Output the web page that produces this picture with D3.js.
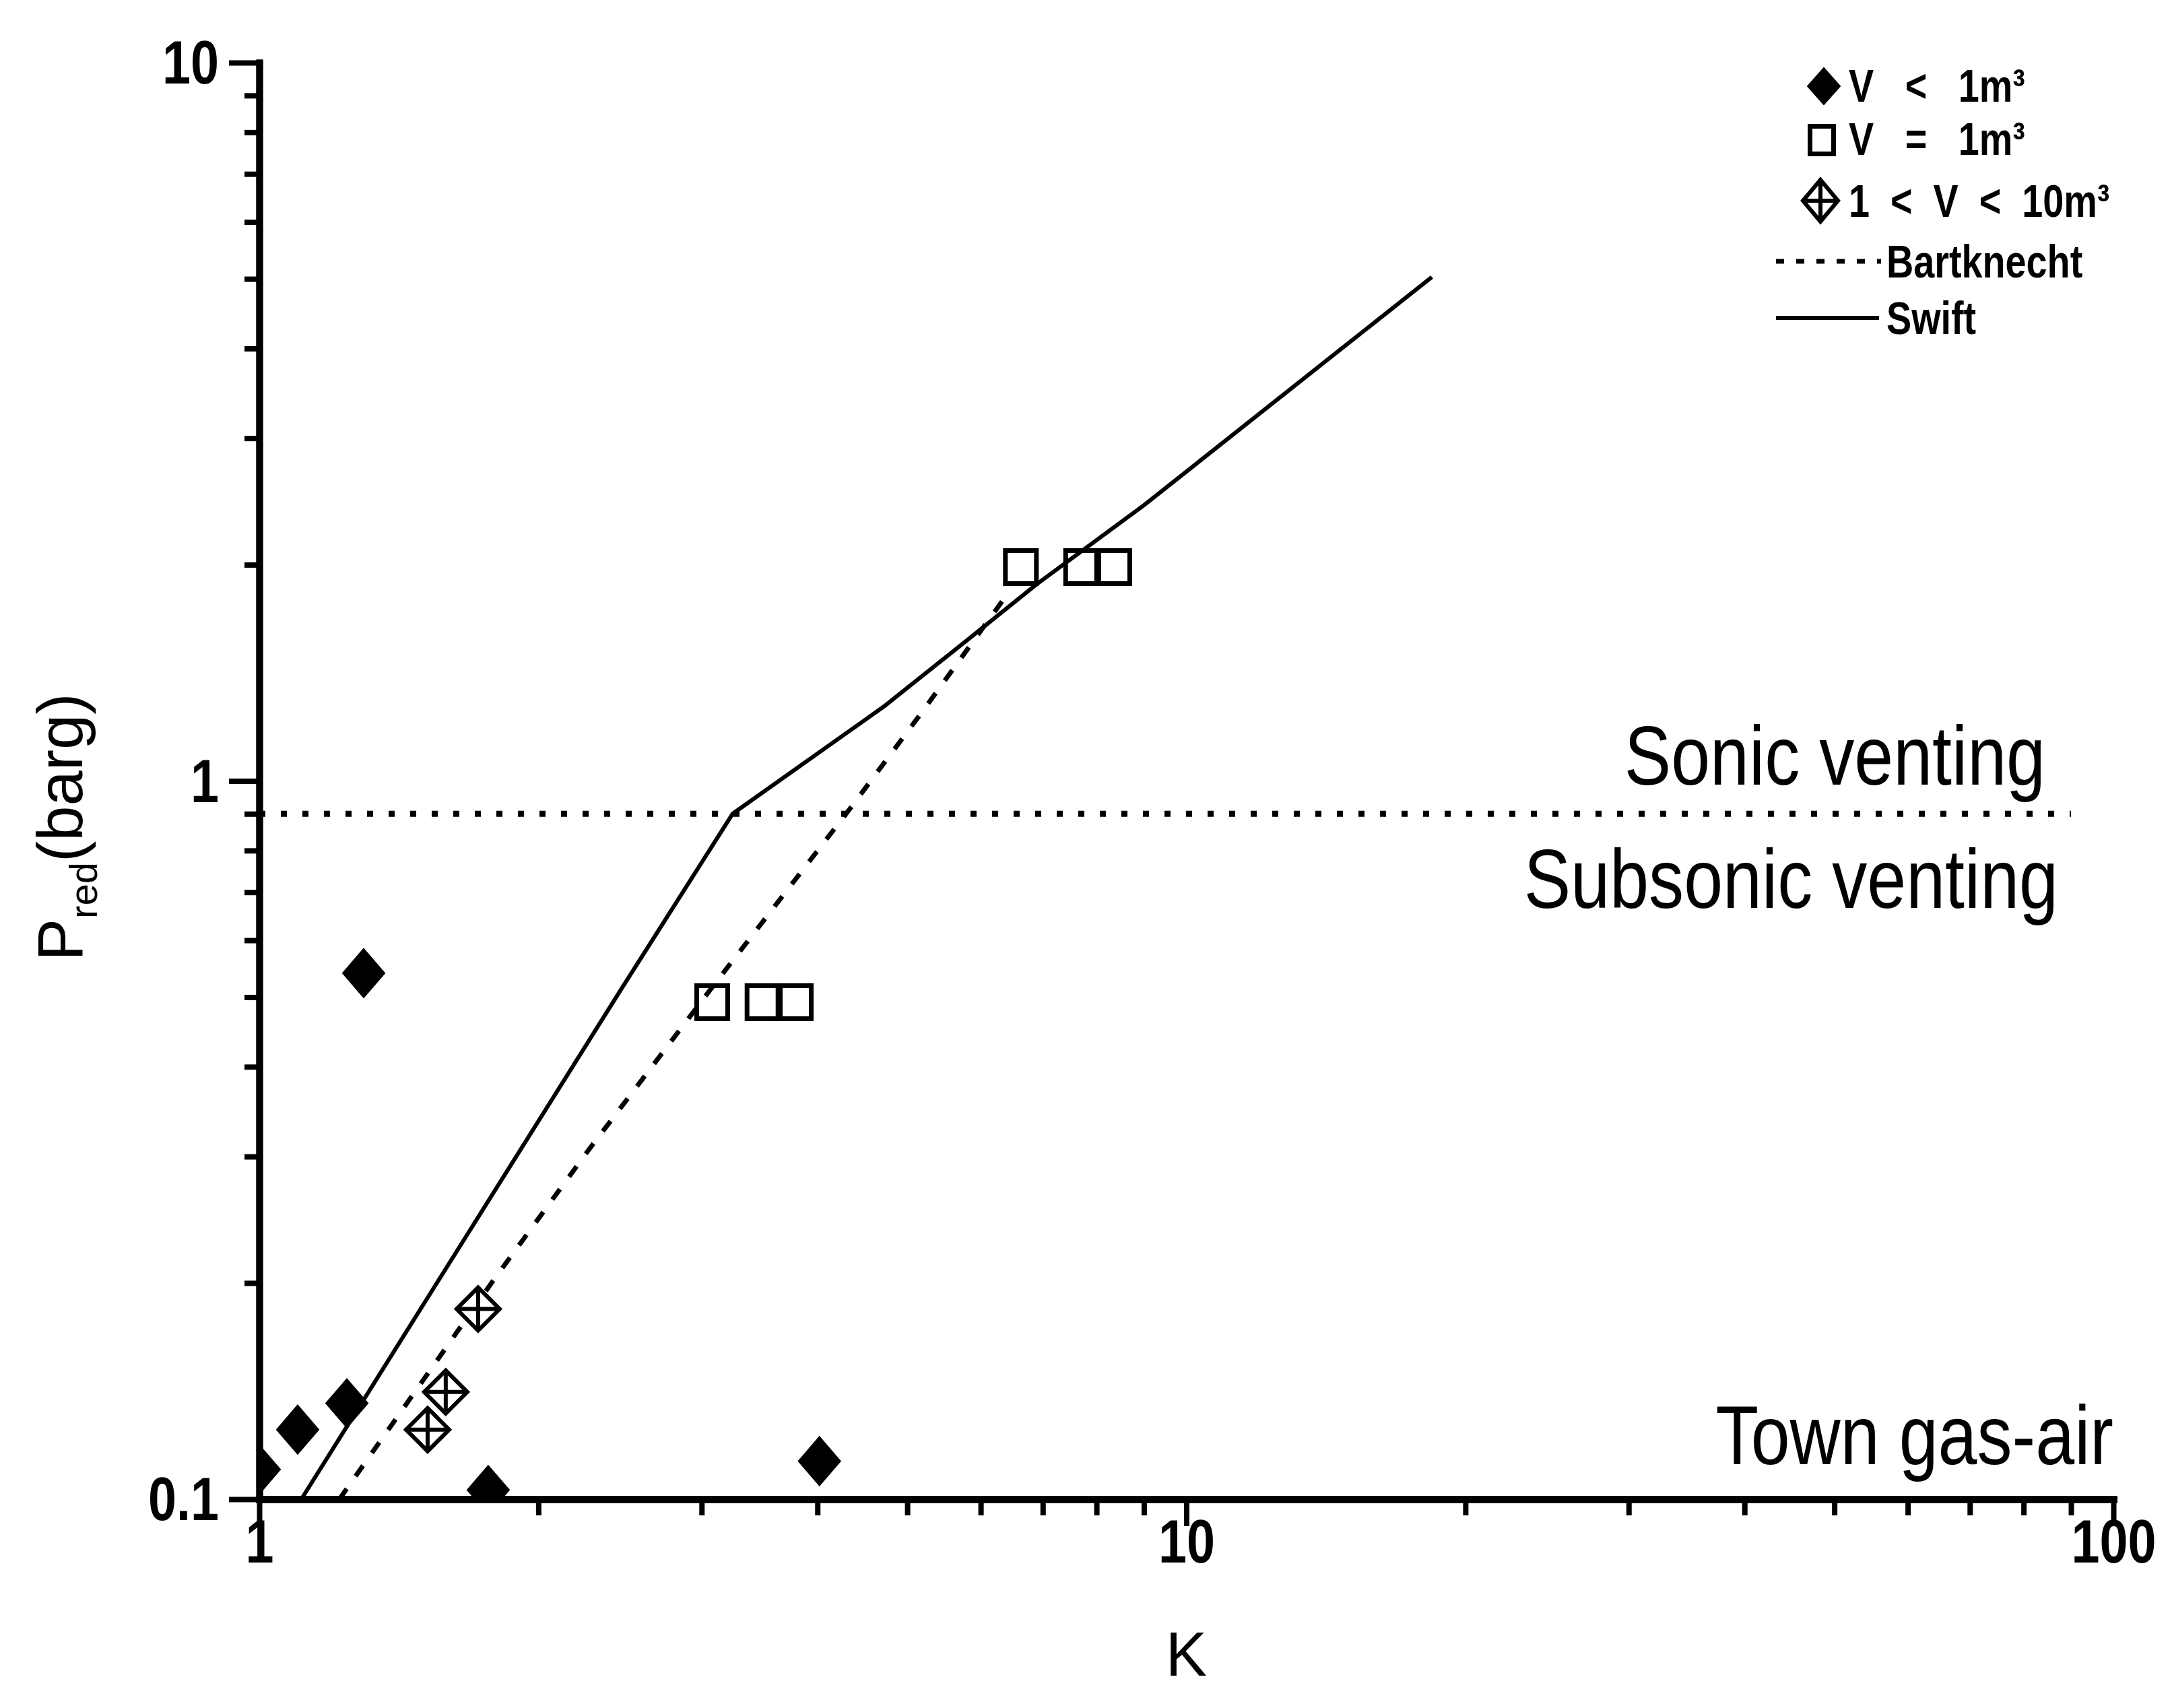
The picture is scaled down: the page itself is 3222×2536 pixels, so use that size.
<!DOCTYPE html>
<html>
<head>
<meta charset="utf-8">
<script src="https://cdn.jsdelivr.net/npm/d3@7"></script>
<style>
  html, body { margin: 0; padding: 0; background: #fff; }
  svg { display: block; }
</style>
</head>
<body>
<script>
// ---- Data: reduced explosion pressure vs. vent coefficient K ----
// Vessels smaller than 1 m3 (filled diamonds)
const smallK = [1.0, 1.10, 1.243, 1.296, 1.766, 4.02];
const smallP = [0.110, 0.125, 0.136, 0.54, 0.103, 0.113];
// 1 m3 vessel (open squares)
const oneK = [3.08, 3.49, 3.79, 6.63, 7.70, 8.36];
const oneP = [0.492, 0.492, 0.492, 1.985, 1.985, 1.985];
// 1 < V < 10 m3 (crossed diamonds)
const midK = [1.519, 1.589, 1.722];
const midP = [0.125, 0.141, 0.184];
// Swift correlation (solid)
const swiftK = [1.11, 1.66, 2.45, 3.24, 4.72, 5.8, 6.9, 9.0, 18.4];
const swiftP = [0.1, 0.229, 0.51, 0.9, 1.27, 1.57, 1.88, 2.42, 5.03];
// Bartknecht correlation (dashed)
const bartK = [1.22, 1.79, 2.26, 3.09, 4.34, 5.17, 6.45];
const bartP = [0.1, 0.202, 0.305, 0.519, 0.916, 1.24, 1.84];
// Sonic / subsonic boundary
const sonicK = [1, 90];
const sonicP = [0.9, 0.9];
// Axis labels
const xTickValues = [1, 10, 100];
const xTickLabels = ["1", "10", "100"];
const yTickValues = [0.1, 1, 10];
const yTickLabels = ["0.1", "1", "10"];
const legendLabels = ["V   <   1m\u00B3", "V   =   1m\u00B3", "1  <  V  <  10m\u00B3", "Bartknecht", "Swift"];

const W = 3222, H = 2536;
const FONT = "'Liberation Sans',Arial,Helvetica,sans-serif";
const NARROW_X = 0.84;   // horizontal squeeze giving a Helvetica-Narrow look

const x = d3.scaleLog().domain([1, 100]).range([385, 3138]);
const y = d3.scaleLog().domain([0.1, 10]).range([2226, 93]);

const svg = d3.select("body").append("svg")
  .attr("width", W).attr("height", H)
  .attr("viewBox", `0 0 ${W} ${H}`);
svg.append("rect").attr("width", W).attr("height", H).attr("fill", "#fff");

svg.append("defs").append("clipPath").attr("id", "plot")
  .append("rect")
  .attr("x", x(1)).attr("y", y(10) - 10)
  .attr("width", x(100) - x(1) + 10)
  .attr("height", y(0.1) - y(10) + 10);

// ---- Axes ----
const isDecade = v => Math.abs(Math.log10(v) - Math.round(Math.log10(v))) < 1e-9;
const xMinor = x.ticks().filter(v => !isDecade(v));
const yMinor = y.ticks().filter(v => !isDecade(v));

function styleAxis(g, width) {
  g.selectAll("path.domain").attr("stroke", "#000").attr("stroke-width", width).attr("stroke-linecap", "square");
  g.selectAll(".tick line").attr("stroke", "#000").attr("stroke-width", 8);
}

// y axis
const gyMinor = svg.append("g").attr("transform", `translate(${x(1)},0)`)
  .call(d3.axisLeft(y).tickValues(yMinor).tickSize(22).tickSizeOuter(0).tickFormat(""));
styleAxis(gyMinor, 10);
const gy = svg.append("g").attr("transform", `translate(${x(1)},0)`)
  .call(d3.axisLeft(y).tickValues(yTickValues).tickSize(45).tickSizeOuter(0)
    .tickFormat((d, i) => yTickLabels[i]));
styleAxis(gy, 10);
gy.selectAll(".tick text")
  .attr("x", 0).attr("dy", "0.34em")
  .attr("transform", `translate(-60,0) scale(${NARROW_X},1)`)
  .attr("font-family", FONT).attr("font-size", 90).attr("font-weight", "bold").attr("fill", "#000");

// x axis
const gxMinor = svg.append("g").attr("transform", `translate(0,${y(0.1)})`)
  .call(d3.axisBottom(x).tickValues(xMinor).tickSize(24).tickSizeOuter(0).tickFormat(""));
styleAxis(gxMinor, 11);
const gx = svg.append("g").attr("transform", `translate(0,${y(0.1)})`)
  .call(d3.axisBottom(x).tickValues(xTickValues).tickSize(40).tickSizeOuter(0)
    .tickFormat((d, i) => xTickLabels[i]));
styleAxis(gx, 11);
gx.selectAll(".tick text")
  .attr("y", 0).attr("dy", "0.71em")
  .attr("transform", `translate(0,30) scale(${NARROW_X},1)`)
  .attr("font-family", FONT).attr("font-size", 90).attr("font-weight", "bold").attr("fill", "#000");

// axis titles
svg.append("text")
  .attr("x", x(10)).attr("y", 2488)
  .attr("text-anchor", "middle")
  .attr("font-family", FONT).attr("font-size", 92).attr("fill", "#000")
  .text("K");

const yTitle = svg.append("text")
  .attr("transform", `translate(122,1228) rotate(-90)`)
  .attr("text-anchor", "middle")
  .attr("font-family", FONT).attr("font-size", 94).attr("fill", "#000");
yTitle.append("tspan").text("P");
yTitle.append("tspan").attr("font-size", 58).attr("dy", 22).text("red");
yTitle.append("tspan").attr("dy", -22).text("(barg)");

// ---- Lines ----
const line = d3.line().x(d => x(d[0])).y(d => y(d[1]));
const zip = (a, b) => a.map((v, i) => [v, b[i]]);

svg.append("path").datum(zip(sonicK, sonicP))
  .attr("d", line).attr("fill", "none").attr("stroke", "#000")
  .attr("stroke-width", 9).attr("stroke-dasharray", "9 23");

svg.append("path").datum(zip(bartK, bartP))
  .attr("d", line).attr("fill", "none").attr("stroke", "#000")
  .attr("stroke-width", 7).attr("stroke-dasharray", "19 23");

svg.append("path").datum(zip(swiftK, swiftP))
  .attr("d", line).attr("fill", "none").attr("stroke", "#000")
  .attr("stroke-width", 6).attr("stroke-linejoin", "round");

// ---- Markers ----
const diamondPath = (w, h) => `M0,${-h / 2}L${w / 2},0L0,${h / 2}L${-w / 2},0Z`;
const marks = svg.append("g").attr("clip-path", "url(#plot)");

function drawFilledDiamond(g, cx, cy, w, h) {
  g.append("path").attr("transform", `translate(${cx},${cy})`)
    .attr("d", diamondPath(w, h)).attr("fill", "#000").attr("stroke", "#000").attr("stroke-width", 2);
}
function drawSquare(g, cx, cy, w, h) {
  g.append("rect").attr("x", cx - w / 2).attr("y", cy - h / 2).attr("width", w).attr("height", h)
    .attr("fill", "none").attr("stroke", "#000").attr("stroke-width", 7);
}
function drawCrossDiamond(g, cx, cy, w, h) {
  const m = g.append("g").attr("transform", `translate(${cx},${cy})`)
    .attr("fill", "none").attr("stroke", "#000").attr("stroke-width", 6);
  m.append("path").attr("d", diamondPath(w, h)).attr("fill", "#fff");
  m.append("line").attr("x1", 0).attr("x2", 0).attr("y1", -h / 2).attr("y2", h / 2);
  m.append("line").attr("x1", -w / 2).attr("x2", w / 2).attr("y1", 0).attr("y2", 0);
}

zip(smallK, smallP).forEach(d => drawFilledDiamond(marks, x(d[0]), y(d[1]), 62, 72));
zip(oneK, oneP).forEach(d => drawSquare(marks, x(d[0]), y(d[1]), 46, 49));
zip(midK, midP).forEach(d => drawCrossDiamond(marks, x(d[0]), y(d[1]), 64, 64));

// ---- Region annotations ----
const annot = [
  { t: "Sonic venting", xx: 3037, yy: 1165 },
  { t: "Subsonic venting", xx: 3056, yy: 1348 },
  { t: "Town gas-air", xx: 3138, yy: 2174 }
];
svg.append("g").selectAll("text").data(annot).join("text")
  .attr("transform", d => `translate(${d.xx},${d.yy}) scale(${NARROW_X},1)`)
  .attr("text-anchor", "end")
  .attr("font-family", FONT).attr("font-size", 124).attr("fill", "#000")
  .text(d => d.t);

// ---- Legend ----
const lg = svg.append("g");
drawFilledDiamond(lg, 2708, 128, 48, 54);
drawSquare(lg, 2705, 208, 35, 41);
drawCrossDiamond(lg, 2703, 298, 52, 62);
lg.append("line").attr("x1", 2637).attr("x2", 2793).attr("y1", 388).attr("y2", 388)
  .attr("stroke", "#000").attr("stroke-width", 7).attr("stroke-dasharray", "12 18");
lg.append("line").attr("x1", 2637).attr("x2", 2790).attr("y1", 472).attr("y2", 472)
  .attr("stroke", "#000").attr("stroke-width", 6);

const legendPos = [
  [2745, 151], [2745, 230], [2745, 322], [2801, 412], [2801, 496]
];
lg.selectAll("text.lab").data(legendLabels).join("text")
  .attr("class", "lab")
  .attr("transform", (d, i) => `translate(${legendPos[i][0]},${legendPos[i][1]}) scale(0.82,1)`)
  .attr("xml:space", "preserve").style("white-space", "pre")
  .attr("font-family", FONT).attr("font-size", 68).attr("font-weight", "bold").attr("fill", "#000")
  .text(d => d);
</script>
</body>
</html>
